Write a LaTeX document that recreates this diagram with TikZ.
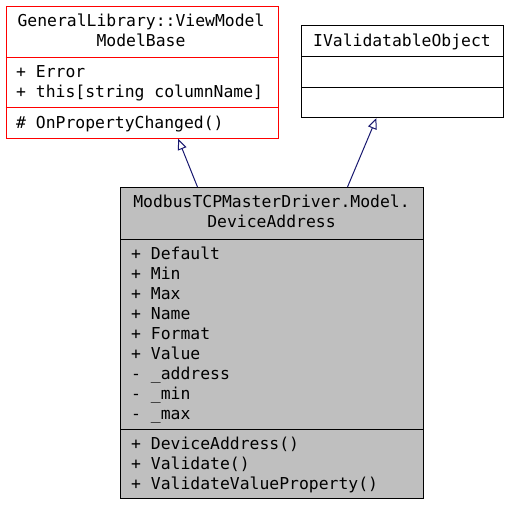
\documentclass[tikz,border=0pt]{standalone}
\usepackage{fontspec}
\setmonofont{DejaVu Sans Mono}
\usetikzlibrary{arrows.meta}
\definecolor{navyblue}{HTML}{191970}
\definecolor{boxgray}{HTML}{BFBFBF}
\definecolor{doxred}{HTML}{FF0000}
\tikzset{
  classbox/.style={line width=1pt, inner sep=0pt, anchor=north west},
  redline/.style={draw=doxred, line width=1.2pt},
  member/.style={anchor=base west, inner sep=0pt, font=\ttfamily\fontsize{16.4}{20}\selectfont},
  titletext/.style={anchor=base, inner sep=0pt, font=\ttfamily\fontsize{16.4}{20}\selectfont},
  inherit/.style={draw=navyblue, line width=1pt, -{Triangle[open, length=11pt, width=9pt]}}
}
\begin{document}
\begin{tikzpicture}[x=1pt, y=-1pt]
\useasboundingbox (0,0) rectangle (509,507);
% IValidatableObject
\node[classbox, draw=black, minimum width=202pt, minimum height=92pt] (ival) at (301,25) {};
\draw[line width=1pt] (301,56) -- (503,56);
\draw[line width=1pt] (301,87) -- (503,87);
\node[titletext] (ivalT) at (402,46) {IValidatableObject};
% ModbusTCPMasterDriver.Model.DeviceAddress
\node[classbox, draw=black, fill=boxgray, minimum width=303pt, minimum height=311pt] (dev) at (120,187) {};
\draw[line width=1pt] (120,239) -- (423,239);
\draw[line width=1pt] (120,429) -- (423,429);
\node[titletext] (devT1) at (271.5,207) {ModbusTCPMasterDriver.Model.};
\node[titletext] (devT2) at (271.5,227) {DeviceAddress};
\node[member] (devA1) at (131,259) {+ Default};
\node[member] (devA2) at (131,279) {+ Min};
\node[member] (devA3) at (131,299) {+ Max};
\node[member] (devA4) at (131,319) {+ Name};
\node[member] (devA5) at (131,339) {+ Format};
\node[member] (devA6) at (131,359) {+ Value};
\node[member] (devA7) at (131,379) {- \_address};
\node[member] (devA8) at (131,399) {- \_min};
\node[member] (devA9) at (131,419) {- \_max};
\node[member] (devM1) at (131,449) {+ DeviceAddress()};
\node[member] (devM2) at (131,469) {+ Validate()};
\node[member] (devM3) at (131,489) {+ ValidateValueProperty()};
% GeneralLibrary::ViewModel ModelBase
\node[classbox, redline, minimum width=272pt, minimum height=132pt] (base) at (5.5,5.5) {};
\node[titletext] (baseT1) at (141,26) {GeneralLibrary::ViewModel};
\node[titletext] (baseT2) at (141,46) {ModelBase};
\node[member] (baseA1) at (16,77) {+ Error};
\node[member] (baseA2) at (16,97) {+ this[string columnName]};
\node[member] (baseM1) at (16,128) {\# OnPropertyChanged()};
% inheritance
\draw[inherit] ([xshift=-74.5pt]dev.north) -- ([xshift=36pt]base.south);
\draw[inherit] ([xshift=75.5pt]dev.north) -- ([xshift=-26pt]ival.south);
% red section dividers
\draw[redline] (base.west |- 0,57.5) -- (base.east |- 0,57.5);
\draw[redline] (base.west |- 0,107.5) -- (base.east |- 0,107.5);
\end{tikzpicture}
\end{document}
